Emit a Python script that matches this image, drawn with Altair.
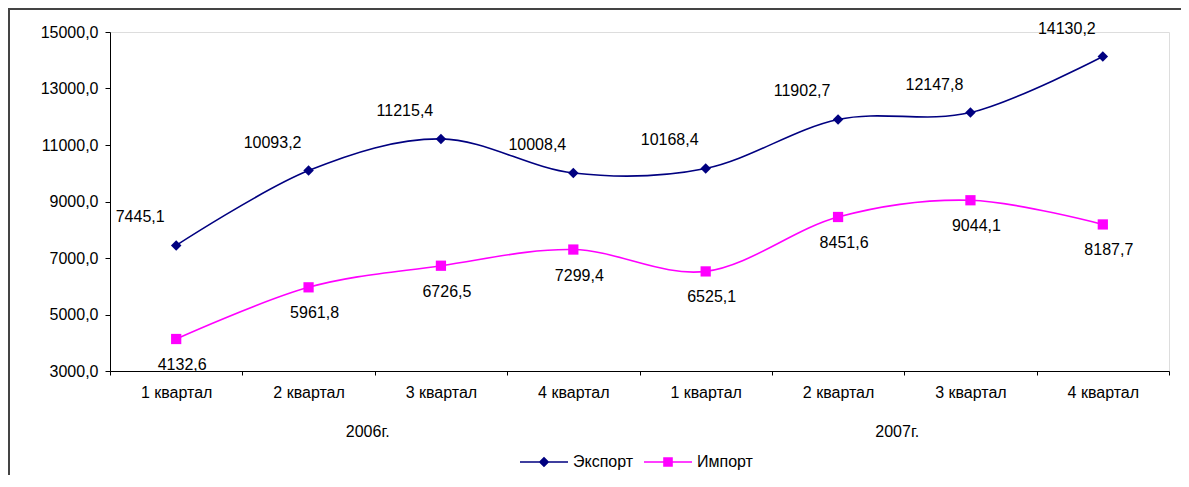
import altair as alt
import pandas as pd

quarters = ["1 квартал", "2 квартал", "3 квартал", "4 квартал",
            "1 квартал", "2 квартал", "3 квартал", "4 квартал"]
years = ["2006г.", "2007г."]
export_vals = [7445.1, 10093.2, 11215.4, 10008.4, 10168.4, 11902.7, 12147.8, 14130.2]
import_vals = [4132.6, 5961.8, 6726.5, 7299.4, 6525.1, 8451.6, 9044.1, 8187.7]
series = ["Экспорт", "Импорт"]
colors = ["#000080", "#FF00FF"]
y_ticks = [3000, 5000, 7000, 9000, 11000, 13000, 15000]

keys = [f"{i}|{q}" for i, q in enumerate(quarters)]

df_exp = pd.DataFrame({"key": keys, "value": export_vals})
df_imp = pd.DataFrame({"key": keys, "value": import_vals})
df_year = pd.DataFrame({"key": [keys[1], keys[5]], "year": years})
df_leg = pd.DataFrame({"series": series})

FONT = "Liberation Sans"
FS = 16

xscale = alt.Scale(type="band", domain=keys, paddingInner=0, paddingOuter=0)
x_enc = alt.X(
    "key:N", scale=xscale, title=None,
    axis=alt.Axis(tickBand="extent", labelExpr="split(datum.label,'|')[1]",
                  labelAngle=0, tickSize=4, labelPadding=9,
                  domainColor="#000", tickColor="#000", labelColor="#000",
                  labelFont=FONT, labelFontSize=FS, grid=False),
)
y_enc = alt.Y(
    "value:Q", title=None,
    scale=alt.Scale(domain=[3000, 15000], nice=False, zero=False),
    axis=alt.Axis(values=y_ticks, labelExpr="replace(format(datum.value,'.1f'),'.',',')",
                  tickSize=5, labelPadding=7, grid=False,
                  domainColor="#000", tickColor="#000", labelColor="#000",
                  labelFont=FONT, labelFontSize=FS),
)

lbl = "replace(format(datum.value,'.1f'),'.',',')"

one = alt.InlineData(values=[{"a": 1}])
border_top = alt.Chart(one).mark_rule(stroke="#444444", strokeWidth=2).encode(
    x=alt.value(-102), x2=alt.value(1300), y=alt.value(-23))
border_left = alt.Chart(one).mark_rule(stroke="#444444", strokeWidth=2).encode(
    x=alt.value(-101), y=alt.value(-24), y2=alt.value(520))

exp_line = alt.Chart(df_exp).mark_line(interpolate="cardinal", color=colors[0], strokeWidth=1.6).encode(x=x_enc, y=y_enc)
imp_line = alt.Chart(df_imp).mark_line(interpolate="cardinal", color=colors[1], strokeWidth=1.6).encode(x=x_enc, y=y_enc)
exp_pts = alt.Chart(df_exp).mark_point(shape="diamond", filled=True, size=110, color=colors[0], opacity=1).encode(x=x_enc, y=y_enc)
imp_pts = alt.Chart(df_imp).mark_point(shape="square", filled=True, size=105, color=colors[1], opacity=1).encode(x=x_enc, y=y_enc)

exp_lbl = alt.Chart(df_exp).transform_calculate(lbl=lbl).mark_text(
    font=FONT, fontSize=FS, color="#000", dx=-36, dy=-28
).encode(x=x_enc, y=y_enc, text="lbl:N")
imp_lbl = alt.Chart(df_imp).transform_calculate(lbl=lbl).mark_text(
    font=FONT, fontSize=FS, color="#000", dx=6, dy=26
).encode(x=x_enc, y=y_enc, text="lbl:N")

year_txt = alt.Chart(df_year).mark_text(
    font=FONT, fontSize=FS, color="#000", baseline="middle", dx=-7
).encode(x=alt.X("key:N", scale=xscale, bandPosition=1), y=alt.value(400), text="year:N")

p = 0.03
line_path = f"M-1,-{p}L1,-{p}L1,{p}L-1,{p}Z"
d = 0.22
s = 0.2
exp_sym = line_path + f"M0,-{d}L{d},0L0,{d}L-{d},0Z"
imp_sym = line_path + f"M-{s},-{s}L{s},-{s}L{s},{s}L-{s},{s}Z"

legend_layer = alt.Chart(df_leg).transform_filter("false").mark_point(filled=True, opacity=1).encode(
    color=alt.Color("series:N", scale=alt.Scale(domain=series, range=colors),
                    legend=alt.Legend(title=None, orient="none", legendX=410, legendY=406,
                                      direction="horizontal", symbolSize=2304,
                                      symbolStrokeWidth=0, labelOffset=5, columnPadding=10,
                                      labelFont=FONT, labelFontSize=FS, labelColor="#000",
                                      padding=0, symbolOpacity=1)),
    shape=alt.Shape("series:N", scale=alt.Scale(domain=series, range=[exp_sym, imp_sym])),
)

chart = alt.layer(
    border_top, border_left, exp_line, imp_line, exp_pts, imp_pts,
    exp_lbl, imp_lbl, year_txt, legend_layer
).properties(
    width=1059, height=339,
    padding={"left": 102, "top": 24, "right": 12, "bottom": 104},
    autosize=alt.AutoSizeParams(type="none"),
).configure_view(stroke=None).configure(background="white")

chart.save("out.html", embed_options={"renderer": "svg", "actions": False})
